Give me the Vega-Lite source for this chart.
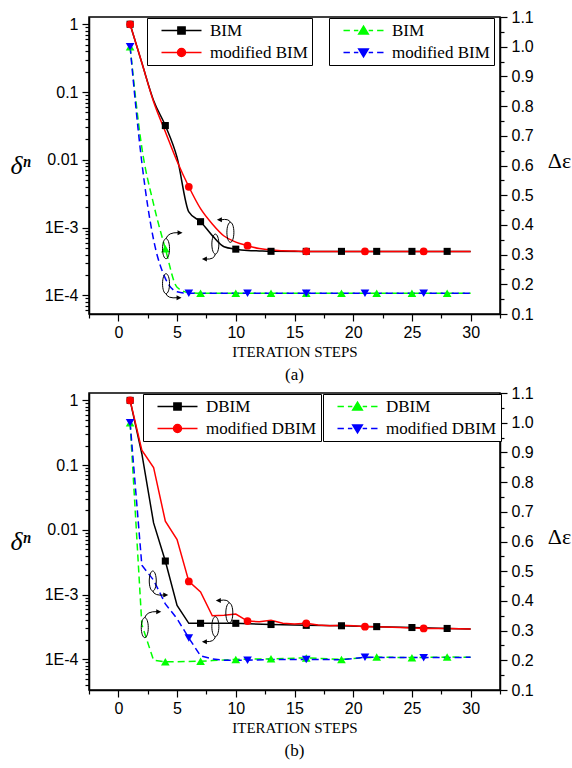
{
  "$schema": "https://vega.github.io/schema/vega-lite/v6.json",
  "background": "white",
  "padding": {"left": 9, "top": 8, "right": 0, "bottom": 0},
  "spacing": 0,
  "datasets": {
    "aL": [
      {"x":1,"v":1,"s":"BIM","mk":1},{"x":2,"v":0.27,"s":"BIM","mk":0},{"x":3,"v":0.075,"s":"BIM","mk":0},{"x":4,"v":0.032,"s":"BIM","mk":1},{"x":5,"v":0.0108,"s":"BIM","mk":0},{"x":6,"v":0.0017,"s":"BIM","mk":0},{"x":7,"v":0.00122,"s":"BIM","mk":1},{"x":8,"v":0.00076,"s":"BIM","mk":0},{"x":9,"v":0.00052,"s":"BIM","mk":0},{"x":10,"v":0.00048,"s":"BIM","mk":1},{"x":11,"v":0.00046,"s":"BIM","mk":0},{"x":12,"v":0.000452,"s":"BIM","mk":0},{"x":13,"v":0.000446,"s":"BIM","mk":1},{"x":16,"v":0.000445,"s":"BIM","mk":1},{"x":19,"v":0.000445,"s":"BIM","mk":1},{"x":22,"v":0.000445,"s":"BIM","mk":1},{"x":25,"v":0.000445,"s":"BIM","mk":1},{"x":28,"v":0.000445,"s":"BIM","mk":1},{"x":30,"v":0.000445,"s":"BIM","mk":0},
      {"x":1,"v":1,"s":"modified BIM","mk":1},{"x":2,"v":0.27,"s":"modified BIM","mk":0},{"x":3,"v":0.072,"s":"modified BIM","mk":0},{"x":4,"v":0.026,"s":"modified BIM","mk":0},{"x":5,"v":0.0095,"s":"modified BIM","mk":0},{"x":6,"v":0.004,"s":"modified BIM","mk":1},{"x":7,"v":0.0019,"s":"modified BIM","mk":0},{"x":8,"v":0.00113,"s":"modified BIM","mk":0},{"x":9,"v":0.00075,"s":"modified BIM","mk":0},{"x":10,"v":0.00061,"s":"modified BIM","mk":0},{"x":11,"v":0.00054,"s":"modified BIM","mk":1},{"x":12,"v":0.00049,"s":"modified BIM","mk":0},{"x":13,"v":0.000465,"s":"modified BIM","mk":0},{"x":14,"v":0.000455,"s":"modified BIM","mk":0},{"x":15,"v":0.00045,"s":"modified BIM","mk":0},{"x":16,"v":0.000445,"s":"modified BIM","mk":1},{"x":21,"v":0.000445,"s":"modified BIM","mk":1},{"x":26,"v":0.000445,"s":"modified BIM","mk":1},{"x":30,"v":0.000445,"s":"modified BIM","mk":0}
    ],
    "aR": [
      {"x":1,"v":1.0,"s":"BIM","mk":1},{"x":2,"v":0.66,"s":"BIM","mk":0},{"x":3,"v":0.47,"s":"BIM","mk":0},{"x":4,"v":0.32,"s":"BIM","mk":1},{"x":5,"v":0.19,"s":"BIM","mk":0},{"x":6,"v":0.172,"s":"BIM","mk":0},{"x":7,"v":0.17,"s":"BIM","mk":1},{"x":10,"v":0.17,"s":"BIM","mk":1},{"x":13,"v":0.17,"s":"BIM","mk":1},{"x":16,"v":0.17,"s":"BIM","mk":1},{"x":19,"v":0.17,"s":"BIM","mk":1},{"x":22,"v":0.17,"s":"BIM","mk":1},{"x":25,"v":0.17,"s":"BIM","mk":1},{"x":28,"v":0.17,"s":"BIM","mk":1},{"x":30,"v":0.17,"s":"BIM","mk":0},
      {"x":1,"v":1.0,"s":"modified BIM","mk":1},{"x":2,"v":0.61,"s":"modified BIM","mk":0},{"x":3,"v":0.35,"s":"modified BIM","mk":0},{"x":4,"v":0.22,"s":"modified BIM","mk":0},{"x":5,"v":0.175,"s":"modified BIM","mk":0},{"x":6,"v":0.17,"s":"modified BIM","mk":1},{"x":11,"v":0.17,"s":"modified BIM","mk":1},{"x":16,"v":0.17,"s":"modified BIM","mk":1},{"x":21,"v":0.17,"s":"modified BIM","mk":1},{"x":26,"v":0.17,"s":"modified BIM","mk":1},{"x":30,"v":0.17,"s":"modified BIM","mk":0}
    ],
    "bL": [
      {"x":1,"v":1,"s":"DBIM","mk":1},{"x":2,"v":0.15,"s":"DBIM","mk":0},{"x":3,"v":0.0128,"s":"DBIM","mk":0},{"x":4,"v":0.0033,"s":"DBIM","mk":1},{"x":5,"v":0.00068,"s":"DBIM","mk":0},{"x":6,"v":0.00036,"s":"DBIM","mk":0},{"x":7,"v":0.00036,"s":"DBIM","mk":1},{"x":10,"v":0.00036,"s":"DBIM","mk":1},{"x":13,"v":0.000345,"s":"DBIM","mk":1},{"x":16,"v":0.000335,"s":"DBIM","mk":1},{"x":19,"v":0.00033,"s":"DBIM","mk":1},{"x":22,"v":0.00032,"s":"DBIM","mk":1},{"x":25,"v":0.00031,"s":"DBIM","mk":1},{"x":28,"v":0.0003,"s":"DBIM","mk":1},{"x":30,"v":0.000295,"s":"DBIM","mk":0},
      {"x":1,"v":1,"s":"modified DBIM","mk":1},{"x":2,"v":0.17,"s":"modified DBIM","mk":0},{"x":3,"v":0.092,"s":"modified DBIM","mk":0},{"x":4,"v":0.0136,"s":"modified DBIM","mk":0},{"x":5,"v":0.0071,"s":"modified DBIM","mk":0},{"x":6,"v":0.0016,"s":"modified DBIM","mk":1},{"x":7,"v":0.0011,"s":"modified DBIM","mk":0},{"x":8,"v":0.00047,"s":"modified DBIM","mk":0},{"x":9,"v":0.00048,"s":"modified DBIM","mk":0},{"x":10,"v":0.0005,"s":"modified DBIM","mk":0},{"x":11,"v":0.00039,"s":"modified DBIM","mk":1},{"x":12,"v":0.00038,"s":"modified DBIM","mk":0},{"x":13,"v":0.0004,"s":"modified DBIM","mk":0},{"x":14,"v":0.00036,"s":"modified DBIM","mk":0},{"x":15,"v":0.00035,"s":"modified DBIM","mk":0},{"x":16,"v":0.00036,"s":"modified DBIM","mk":1},{"x":17,"v":0.00034,"s":"modified DBIM","mk":0},{"x":18,"v":0.00033,"s":"modified DBIM","mk":0},{"x":19,"v":0.000335,"s":"modified DBIM","mk":0},{"x":20,"v":0.00033,"s":"modified DBIM","mk":0},{"x":21,"v":0.00032,"s":"modified DBIM","mk":1},{"x":22,"v":0.00032,"s":"modified DBIM","mk":0},{"x":24,"v":0.00031,"s":"modified DBIM","mk":0},{"x":26,"v":0.0003,"s":"modified DBIM","mk":1},{"x":28,"v":0.0003,"s":"modified DBIM","mk":0},{"x":30,"v":0.000295,"s":"modified DBIM","mk":0}
    ],
    "bR": [
      {"x":1,"v":1.0,"s":"DBIM","mk":1},{"x":2,"v":0.32,"s":"DBIM","mk":0},{"x":3,"v":0.2,"s":"DBIM","mk":0},{"x":4,"v":0.195,"s":"DBIM","mk":1},{"x":5,"v":0.195,"s":"DBIM","mk":0},{"x":6,"v":0.196,"s":"DBIM","mk":0},{"x":7,"v":0.197,"s":"DBIM","mk":1},{"x":8,"v":0.199,"s":"DBIM","mk":0},{"x":10,"v":0.203,"s":"DBIM","mk":1},{"x":13,"v":0.205,"s":"DBIM","mk":1},{"x":16,"v":0.208,"s":"DBIM","mk":1},{"x":19,"v":0.203,"s":"DBIM","mk":1},{"x":22,"v":0.211,"s":"DBIM","mk":1},{"x":25,"v":0.209,"s":"DBIM","mk":1},{"x":28,"v":0.211,"s":"DBIM","mk":1},{"x":30,"v":0.21,"s":"DBIM","mk":0},
      {"x":1,"v":1.0,"s":"modified DBIM","mk":1},{"x":2,"v":0.52,"s":"modified DBIM","mk":0},{"x":3,"v":0.47,"s":"modified DBIM","mk":0},{"x":4,"v":0.39,"s":"modified DBIM","mk":0},{"x":5,"v":0.34,"s":"modified DBIM","mk":0},{"x":6,"v":0.275,"s":"modified DBIM","mk":1},{"x":7,"v":0.215,"s":"modified DBIM","mk":0},{"x":8,"v":0.205,"s":"modified DBIM","mk":0},{"x":9,"v":0.2,"s":"modified DBIM","mk":0},{"x":11,"v":0.2,"s":"modified DBIM","mk":1},{"x":13,"v":0.203,"s":"modified DBIM","mk":0},{"x":16,"v":0.203,"s":"modified DBIM","mk":1},{"x":19,"v":0.202,"s":"modified DBIM","mk":0},{"x":21,"v":0.21,"s":"modified DBIM","mk":1},{"x":26,"v":0.209,"s":"modified DBIM","mk":1},{"x":30,"v":0.21,"s":"modified DBIM","mk":0}
    ],
    "annAL": [{"x":9.54,"v":0.00085,"kind":"UL","head":"hUL"},{"x":8.26,"v":0.00057,"kind":"DL","head":"hDL"}],
    "annAR": [{"x":4.06,"v":0.32,"kind":"UR","head":"hUR"},{"x":4.06,"v":0.202,"kind":"DR","head":"hDR"}],
    "annBL": [{"x":9.45,"v":0.00052,"kind":"UL","head":"hUL"},{"x":8.26,"v":0.00032,"kind":"DL","head":"hDL"}],
    "annBR": [{"x":2.93,"v":0.467,"kind":"DR","head":"hDR"},{"x":2.25,"v":0.31,"kind":"UR","head":"hUR"}]
  },
  "vconcat": [
    {
      "width": 411, "height": 297,
      "title": {"text": "(a)", "orient": "bottom", "font": "Liberation Serif", "fontSize": 17, "fontWeight": "normal", "color": "black", "offset": 8, "anchor": "middle", "frame": "group"},
      "layer": [
        {
          "layer": [
            {"data": {"name": "aL"}, "mark": {"type": "line", "interpolate": "monotone", "strokeWidth": 1.5},
             "encoding": {
               "x": {"field": "x", "type": "quantitative", "scale": {"domain": [-2.5, 32.5], "nice": false, "zero": false},
                     "axis": {"title": "ITERATION STEPS", "tickCount": 100, "values": [-2.5,0,2.5,5,7.5,10,12.5,15,17.5,20,22.5,25,27.5,30,32.5], "labelExpr": "indexof([0,5,10,15,20,25,30], datum.value) >= 0 ? format(datum.value,'d') : ''", "labelOverlap": false,
                              "tickSize": {"condition": {"test": "indexof([0,5,10,15,20,25,30], datum.value) >= 0", "value": 7}, "value": 4}, "labelPadding": 3, "titlePadding": 4, "titleFontSize": 15}},
               "y": {"field": "v", "type": "quantitative", "scale": {"type": "log", "domain": [0.000053, 1.28], "nice": false},
                     "axis": {"orient": "left", "title": "δⁿ", "titleAngle": 0, "titleAlign": "right", "titleBaseline": "middle", "titleFontStyle": "italic", "titleFontSize": 26, "titlePadding": 14, "labelOverlap": false, "tickCount": 100,
                              "values": [0.00006,0.00007,0.00008,0.00009,0.0001,0.0002,0.0003,0.0004,0.0005,0.0006,0.0007,0.0008,0.0009,0.001,0.002,0.003,0.004,0.005,0.006,0.007,0.008,0.009,0.01,0.02,0.03,0.04,0.05,0.06,0.07,0.08,0.09,0.1,0.2,0.3,0.4,0.5,0.6,0.7,0.8,0.9,1],
                              "labelExpr": "datum.value === 1 ? '1' : datum.value === 0.1 ? '0.1' : datum.value === 0.01 ? '0.01' : datum.value === 0.001 ? '1E-3' : datum.value === 0.0001 ? '1E-4' : ''",
                              "tickSize": {"condition": {"test": "indexof([1,0.1,0.01,0.001,0.0001], datum.value) >= 0", "value": 7}, "value": 4}, "labelPadding": 4}},
               "color": {"field": "s", "type": "nominal", "scale": {"domain": ["BIM", "modified BIM"], "range": ["#000000", "#ff0000"]},
                         "legend": {"orient": "none", "legendX": 58, "legendY": 1,
                                    "encode": {"symbols": {"update": {
                                      "shape": [{"test": "indexof(datum.value, 'modified') < 0", "value": "M-5,0L5,0M-0.9,-0.9L0.9,-0.9L0.9,0.9L-0.9,0.9Z"}, {"value": "M-5,0L5,0M1,0A1,1 0 1,1 -1,0A1,1 0 1,1 1,0Z"}],
                                      "fill": [{"test": "indexof(datum.value, 'modified') < 0", "value": "#000000"}, {"value": "#ff0000"}],
                                      "stroke": [{"test": "indexof(datum.value, 'modified') < 0", "value": "#000000"}, {"value": "#ff0000"}],
                                      "strokeDash": {"value": []}, "opacity": {"value": 1}}}}}}
             }},
            {"data": {"name": "aL"}, "transform": [{"filter": "datum.mk == 1 && datum.s == 'BIM'"}], "mark": {"type": "point", "shape": "square", "filled": true, "size": 50, "opacity": 1},
             "encoding": {"x": {"field": "x", "type": "quantitative"}, "y": {"field": "v", "type": "quantitative"}, "color": {"field": "s", "type": "nominal"}}},
            {"data": {"name": "aL"}, "transform": [{"filter": "datum.mk == 1 && datum.s == 'modified BIM'"}], "mark": {"type": "point", "shape": "circle", "filled": true, "size": 60, "opacity": 1},
             "encoding": {"x": {"field": "x", "type": "quantitative"}, "y": {"field": "v", "type": "quantitative"}, "color": {"field": "s", "type": "nominal"}}},
            {"data": {"name": "annAL"}, "mark": {"type": "point", "filled": false, "stroke": "black", "strokeWidth": 1, "size": 100, "opacity": 1},
             "encoding": {"x": {"field": "x", "type": "quantitative"}, "y": {"field": "v", "type": "quantitative"},
                          "shape": {"field": "kind", "type": "nominal", "legend": null,
                                    "scale": {"domain": ["UL","DL","UR","DR","hUL","hDL","hUR","hDR"],
                                              "range": ["M0,-2A0.7,2 0 1,1 0,2A0.7,2 0 1,1 0,-2M0,-2Q-0.3,-2.8 -1.9,-2.5",
                                                        "M0,-2A0.7,2 0 1,1 0,2A0.7,2 0 1,1 0,-2M0,2Q-0.2,3.1 -1.9,3",
                                                        "M0,-2A0.7,2 0 1,1 0,2A0.7,2 0 1,1 0,-2M0,-2Q0.4,-3.3 2.5,-3.2",
                                                        "M0,-2A0.7,2 0 1,1 0,2A0.7,2 0 1,1 0,-2M0,2Q0.3,3 2.3,2.8",
                                                        "M-2.7,-2.5L-1.7,-3L-1.7,-2Z",
                                                        "M-2.7,3L-1.7,2.5L-1.7,3.5Z",
                                                        "M3.3,-3.2L2.3,-3.7L2.3,-2.7Z",
                                                        "M3.1,2.8L2.1,2.3L2.1,3.3Z"]}}}},
            {"data": {"name": "annAL"}, "mark": {"type": "point", "filled": true, "fill": "black", "strokeWidth": 0, "size": 100, "opacity": 1},
             "encoding": {"x": {"field": "x", "type": "quantitative"}, "y": {"field": "v", "type": "quantitative"}, "shape": {"field": "head", "type": "nominal", "legend": null}}}
          ]
        },
        {
          "layer": [
            {"data": {"name": "aR"}, "mark": {"type": "line", "interpolate": "monotone", "strokeWidth": 1.5, "strokeDash": [7, 4]},
             "encoding": {
               "x": {"field": "x", "type": "quantitative"},
               "y": {"field": "v", "type": "quantitative", "scale": {"domain": [0.1, 1.1], "nice": false, "zero": false},
                     "axis": {"orient": "right", "title": "Δε", "titleAngle": 0, "titleAlign": "left", "titleBaseline": "middle", "titleY": 143, "titleFontSize": 22, "titlePadding": 14, "labelOverlap": false, "tickCount": 100,
                              "values": [0.1,0.15,0.2,0.25,0.3,0.35,0.4,0.45,0.5,0.55,0.6,0.65,0.7,0.75,0.8,0.85,0.9,0.95,1.0,1.05,1.1],
                              "labelExpr": "indexof([0.1,0.2,0.3,0.4,0.5,0.6,0.7,0.8,0.9,1,1.1], datum.value) >= 0 ? format(datum.value,'.1f') : ''",
                              "tickSize": {"condition": {"test": "indexof([0.1,0.2,0.3,0.4,0.5,0.6,0.7,0.8,0.9,1,1.1], datum.value) >= 0", "value": 7}, "value": 4}, "labelPadding": 4}},
               "color": {"field": "s", "type": "nominal", "scale": {"domain": ["BIM", "modified BIM"], "range": ["#00ff00", "#0000ff"]},
                         "legend": {"orient": "none", "legendX": 240, "legendY": 1,
                                    "encode": {"symbols": {"update": {
                                      "shape": [{"test": "indexof(datum.value, 'modified') < 0", "value": "M-5,0L-3.4,0M-2.4,0L-1.3,0M1.3,0L2.4,0M3.4,0L5,0M0,-1.1L1.2,0.9L-1.2,0.9Z"}, {"value": "M-5,0L-3.4,0M-2.4,0L-1.3,0M1.3,0L2.4,0M3.4,0L5,0M0,1.1L1.2,-0.9L-1.2,-0.9Z"}],
                                      "fill": [{"test": "indexof(datum.value, 'modified') < 0", "value": "#00ff00"}, {"value": "#0000ff"}],
                                      "stroke": [{"test": "indexof(datum.value, 'modified') < 0", "value": "#00ff00"}, {"value": "#0000ff"}],
                                      "strokeDash": {"value": []}, "opacity": {"value": 1}}}}}}
             }},
            {"data": {"name": "aR"}, "transform": [{"filter": "datum.mk == 1 && datum.s == 'BIM'"}], "mark": {"type": "point", "shape": "triangle-up", "filled": true, "size": 75, "opacity": 1},
             "encoding": {"x": {"field": "x", "type": "quantitative"}, "y": {"field": "v", "type": "quantitative"}, "color": {"field": "s", "type": "nominal"}}},
            {"data": {"name": "aR"}, "transform": [{"filter": "datum.mk == 1 && datum.s == 'modified BIM'"}], "mark": {"type": "point", "shape": "triangle-down", "filled": true, "size": 75, "opacity": 1},
             "encoding": {"x": {"field": "x", "type": "quantitative"}, "y": {"field": "v", "type": "quantitative"}, "color": {"field": "s", "type": "nominal"}}},
            {"data": {"name": "annAR"}, "mark": {"type": "point", "filled": false, "stroke": "black", "strokeWidth": 1, "size": 100, "opacity": 1},
             "encoding": {"x": {"field": "x", "type": "quantitative"}, "y": {"field": "v", "type": "quantitative"}, "shape": {"field": "kind", "type": "nominal", "legend": null}}},
            {"data": {"name": "annAR"}, "mark": {"type": "point", "filled": true, "fill": "black", "strokeWidth": 0, "size": 100, "opacity": 1},
             "encoding": {"x": {"field": "x", "type": "quantitative"}, "y": {"field": "v", "type": "quantitative"}, "shape": {"field": "head", "type": "nominal", "legend": null}}}
          ]
        }
      ],
      "resolve": {"scale": {"y": "independent", "color": "independent"}}
    },
    {
      "width": 411, "height": 297,
      "title": {"text": "(b)", "orient": "bottom", "font": "Liberation Serif", "fontSize": 17, "fontWeight": "normal", "color": "black", "offset": 8, "anchor": "middle", "frame": "group"},
      "layer": [
        {
          "layer": [
            {"data": {"name": "bL"}, "mark": {"type": "line", "strokeWidth": 1.5},
             "encoding": {
               "x": {"field": "x", "type": "quantitative", "scale": {"domain": [-2.5, 32.5], "nice": false, "zero": false},
                     "axis": {"title": "ITERATION STEPS", "tickCount": 100, "values": [-2.5,0,2.5,5,7.5,10,12.5,15,17.5,20,22.5,25,27.5,30,32.5], "labelExpr": "indexof([0,5,10,15,20,25,30], datum.value) >= 0 ? format(datum.value,'d') : ''", "labelOverlap": false,
                              "tickSize": {"condition": {"test": "indexof([0,5,10,15,20,25,30], datum.value) >= 0", "value": 7}, "value": 4}, "labelPadding": 3, "titlePadding": 4, "titleFontSize": 15}},
               "y": {"field": "v", "type": "quantitative", "scale": {"type": "log", "domain": [0.0000336, 1.3], "nice": false},
                     "axis": {"orient": "left", "title": "δⁿ", "titleAngle": 0, "titleAlign": "right", "titleBaseline": "middle", "titleFontStyle": "italic", "titleFontSize": 26, "titlePadding": 14, "labelOverlap": false, "tickCount": 100,
                              "values": [0.00004,0.00005,0.00006,0.00007,0.00008,0.00009,0.0001,0.0002,0.0003,0.0004,0.0005,0.0006,0.0007,0.0008,0.0009,0.001,0.002,0.003,0.004,0.005,0.006,0.007,0.008,0.009,0.01,0.02,0.03,0.04,0.05,0.06,0.07,0.08,0.09,0.1,0.2,0.3,0.4,0.5,0.6,0.7,0.8,0.9,1],
                              "labelExpr": "datum.value === 1 ? '1' : datum.value === 0.1 ? '0.1' : datum.value === 0.01 ? '0.01' : datum.value === 0.001 ? '1E-3' : datum.value === 0.0001 ? '1E-4' : ''",
                              "tickSize": {"condition": {"test": "indexof([1,0.1,0.01,0.001,0.0001], datum.value) >= 0", "value": 7}, "value": 4}, "labelPadding": 4}},
               "color": {"field": "s", "type": "nominal", "scale": {"domain": ["DBIM", "modified DBIM"], "range": ["#000000", "#ff0000"]},
                         "legend": {"orient": "none", "legendX": 54, "legendY": 1,
                                    "encode": {"symbols": {"update": {
                                      "shape": [{"test": "indexof(datum.value, 'modified') < 0", "value": "M-5,0L5,0M-0.9,-0.9L0.9,-0.9L0.9,0.9L-0.9,0.9Z"}, {"value": "M-5,0L5,0M1,0A1,1 0 1,1 -1,0A1,1 0 1,1 1,0Z"}],
                                      "fill": [{"test": "indexof(datum.value, 'modified') < 0", "value": "#000000"}, {"value": "#ff0000"}],
                                      "stroke": [{"test": "indexof(datum.value, 'modified') < 0", "value": "#000000"}, {"value": "#ff0000"}],
                                      "strokeDash": {"value": []}, "opacity": {"value": 1}}}}}}
             }},
            {"data": {"name": "bL"}, "transform": [{"filter": "datum.mk == 1 && datum.s == 'DBIM'"}], "mark": {"type": "point", "shape": "square", "filled": true, "size": 50, "opacity": 1},
             "encoding": {"x": {"field": "x", "type": "quantitative"}, "y": {"field": "v", "type": "quantitative"}, "color": {"field": "s", "type": "nominal"}}},
            {"data": {"name": "bL"}, "transform": [{"filter": "datum.mk == 1 && datum.s == 'modified DBIM'"}], "mark": {"type": "point", "shape": "circle", "filled": true, "size": 60, "opacity": 1},
             "encoding": {"x": {"field": "x", "type": "quantitative"}, "y": {"field": "v", "type": "quantitative"}, "color": {"field": "s", "type": "nominal"}}},
            {"data": {"name": "annBL"}, "mark": {"type": "point", "filled": false, "stroke": "black", "strokeWidth": 1, "size": 100, "opacity": 1},
             "encoding": {"x": {"field": "x", "type": "quantitative"}, "y": {"field": "v", "type": "quantitative"},
                          "shape": {"field": "kind", "type": "nominal", "legend": null,
                                    "scale": {"domain": ["UL","DL","UR","DR","hUL","hDL","hUR","hDR"],
                                              "range": ["M0,-2A0.7,2 0 1,1 0,2A0.7,2 0 1,1 0,-2M0,-2Q-0.3,-2.8 -1.9,-2.5",
                                                        "M0,-2A0.7,2 0 1,1 0,2A0.7,2 0 1,1 0,-2M0,2Q-0.2,3.1 -1.9,3",
                                                        "M0,-2A0.7,2 0 1,1 0,2A0.7,2 0 1,1 0,-2M0,-2Q0.4,-3.3 2.5,-3.2",
                                                        "M0,-2A0.7,2 0 1,1 0,2A0.7,2 0 1,1 0,-2M0,2Q0.3,3 2.3,2.8",
                                                        "M-2.7,-2.5L-1.7,-3L-1.7,-2Z",
                                                        "M-2.7,3L-1.7,2.5L-1.7,3.5Z",
                                                        "M3.3,-3.2L2.3,-3.7L2.3,-2.7Z",
                                                        "M3.1,2.8L2.1,2.3L2.1,3.3Z"]}}}},
            {"data": {"name": "annBL"}, "mark": {"type": "point", "filled": true, "fill": "black", "strokeWidth": 0, "size": 100, "opacity": 1},
             "encoding": {"x": {"field": "x", "type": "quantitative"}, "y": {"field": "v", "type": "quantitative"}, "shape": {"field": "head", "type": "nominal", "legend": null}}}
          ]
        },
        {
          "layer": [
            {"data": {"name": "bR"}, "mark": {"type": "line", "strokeWidth": 1.5, "strokeDash": [7, 4]},
             "encoding": {
               "x": {"field": "x", "type": "quantitative"},
               "y": {"field": "v", "type": "quantitative", "scale": {"domain": [0.1, 1.1], "nice": false, "zero": false},
                     "axis": {"orient": "right", "title": "Δε", "titleAngle": 0, "titleAlign": "left", "titleBaseline": "middle", "titleY": 143, "titleFontSize": 22, "titlePadding": 14, "labelOverlap": false, "tickCount": 100,
                              "values": [0.1,0.15,0.2,0.25,0.3,0.35,0.4,0.45,0.5,0.55,0.6,0.65,0.7,0.75,0.8,0.85,0.9,0.95,1.0,1.05,1.1],
                              "labelExpr": "indexof([0.1,0.2,0.3,0.4,0.5,0.6,0.7,0.8,0.9,1,1.1], datum.value) >= 0 ? format(datum.value,'.1f') : ''",
                              "tickSize": {"condition": {"test": "indexof([0.1,0.2,0.3,0.4,0.5,0.6,0.7,0.8,0.9,1,1.1], datum.value) >= 0", "value": 7}, "value": 4}, "labelPadding": 4}},
               "color": {"field": "s", "type": "nominal", "scale": {"domain": ["DBIM", "modified DBIM"], "range": ["#00ff00", "#0000ff"]},
                         "legend": {"orient": "none", "legendX": 234, "legendY": 1,
                                    "encode": {"symbols": {"update": {
                                      "shape": [{"test": "indexof(datum.value, 'modified') < 0", "value": "M-5,0L-3.4,0M-2.4,0L-1.3,0M1.3,0L2.4,0M3.4,0L5,0M0,-1.1L1.2,0.9L-1.2,0.9Z"}, {"value": "M-5,0L-3.4,0M-2.4,0L-1.3,0M1.3,0L2.4,0M3.4,0L5,0M0,1.1L1.2,-0.9L-1.2,-0.9Z"}],
                                      "fill": [{"test": "indexof(datum.value, 'modified') < 0", "value": "#00ff00"}, {"value": "#0000ff"}],
                                      "stroke": [{"test": "indexof(datum.value, 'modified') < 0", "value": "#00ff00"}, {"value": "#0000ff"}],
                                      "strokeDash": {"value": []}, "opacity": {"value": 1}}}}}}
             }},
            {"data": {"name": "bR"}, "transform": [{"filter": "datum.mk == 1 && datum.s == 'DBIM'"}], "mark": {"type": "point", "shape": "triangle-up", "filled": true, "size": 75, "opacity": 1},
             "encoding": {"x": {"field": "x", "type": "quantitative"}, "y": {"field": "v", "type": "quantitative"}, "color": {"field": "s", "type": "nominal"}}},
            {"data": {"name": "bR"}, "transform": [{"filter": "datum.mk == 1 && datum.s == 'modified DBIM'"}], "mark": {"type": "point", "shape": "triangle-down", "filled": true, "size": 75, "opacity": 1},
             "encoding": {"x": {"field": "x", "type": "quantitative"}, "y": {"field": "v", "type": "quantitative"}, "color": {"field": "s", "type": "nominal"}}},
            {"data": {"name": "annBR"}, "mark": {"type": "point", "filled": false, "stroke": "black", "strokeWidth": 1, "size": 100, "opacity": 1},
             "encoding": {"x": {"field": "x", "type": "quantitative"}, "y": {"field": "v", "type": "quantitative"}, "shape": {"field": "kind", "type": "nominal", "legend": null}}},
            {"data": {"name": "annBR"}, "mark": {"type": "point", "filled": true, "fill": "black", "strokeWidth": 0, "size": 100, "opacity": 1},
             "encoding": {"x": {"field": "x", "type": "quantitative"}, "y": {"field": "v", "type": "quantitative"}, "shape": {"field": "head", "type": "nominal", "legend": null}}}
          ]
        }
      ],
      "resolve": {"scale": {"y": "independent", "color": "independent"}}
    }
  ],
  "config": {
    "view": {"stroke": "black", "strokeWidth": 1.5},
    "axis": {"grid": false, "domainColor": "black", "domainWidth": 1.5, "tickColor": "black", "tickWidth": 1.2, "labelColor": "black", "labelFont": "Liberation Sans", "labelFontSize": 16, "labelFlush": false, "labelBound": false, "titleFont": "Liberation Serif", "titleFontWeight": "normal", "titleColor": "black"},
    "legend": {"title": null, "direction": "vertical", "strokeColor": "black", "fillColor": "white", "padding": 4, "rowPadding": 4, "labelFont": "Liberation Serif", "labelFontSize": 17, "labelColor": "black", "labelLimit": 0, "symbolSize": 64, "symbolOffset": 22, "labelOffset": 20, "symbolStrokeWidth": 1.5}
  }
}
